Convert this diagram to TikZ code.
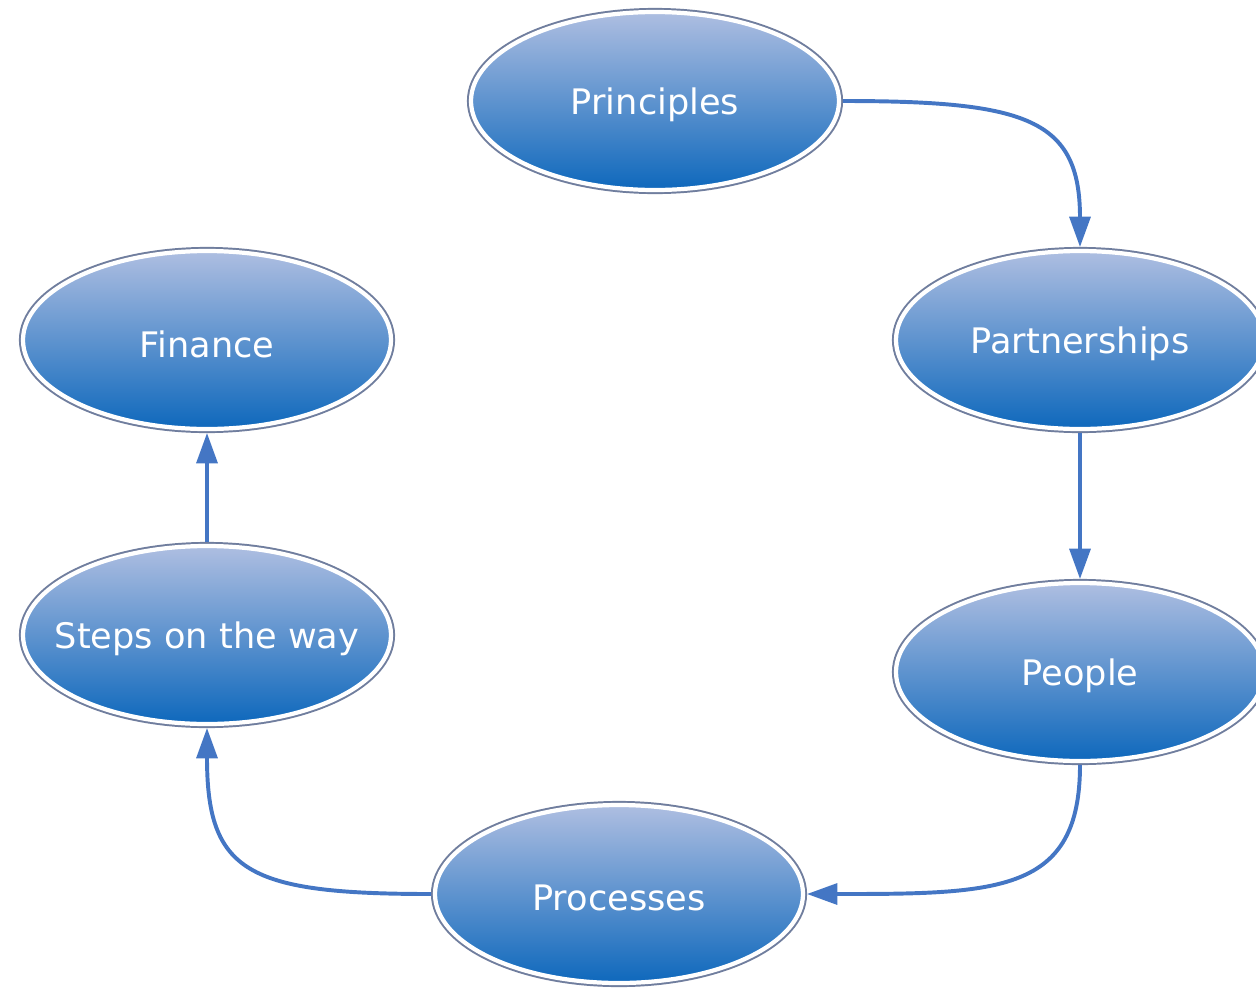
\documentclass[tikz,border=0pt]{standalone}
\usepackage{fontspec}
\setmainfont{DejaVu Sans}
\definecolor{bubbletop}{RGB}{174, 190, 225}
\definecolor{bubblebottom}{RGB}{14, 104, 188}
\definecolor{ringgray}{RGB}{112, 126, 158}
\definecolor{flowblue}{RGB}{68, 118, 196}
\usepackage{tikz}
\usetikzlibrary{shapes, arrows.meta, positioning}

\begin{document}
\begin{tikzpicture}[
    bubble/.style={ellipse, minimum width=9.2cm, minimum height=4.45cm, inner sep=0pt, outer sep=2.8pt,
      top color=bubbletop, bottom color=bubblebottom, draw=white, line width=3pt,
      preaction={draw=ringgray, line width=5.8pt}},
    bubbletext/.style={text=white, font=\fontsize{25}{30}\selectfont, yshift=-3pt},
    flow/.style={-{Triangle[length=0.76cm, width=0.52cm]}, draw=flowblue, line width=2.8pt}
  ]
  \useasboundingbox (0, 0) rectangle (31.4, -24.7);

  % The six stages
  \node[bubble, label={[bubbletext]center:Principles}] (principles) at (16.375, -2.525) {};
  \node[bubble, label={[bubbletext]center:Partnerships}] (partnerships) at (27, -8.5) {};
  \node[bubble, label={[bubbletext]center:People}] (people) at (27, -16.8) {};
  \node[bubble, label={[bubbletext]center:Processes}] (processes) at (15.475, -22.35) {};
  \node[bubble, label={[bubbletext]center:Steps on the way}] (steps) at (5.175, -15.875) {};
  \node[bubble, label={[bubbletext]center:Finance}] (finance) at (5.175, -8.5) {};

  % Cycle arrows
  \draw[flow] (principles.east) .. controls +(4.6, 0) and +(0, 3.2) .. (partnerships.north);
  \draw[flow] (partnerships.south) -- (people.north);
  \draw[flow] (people.south) .. controls +(0, -3.2) and +(4.8, 0) .. (processes.east);
  \draw[flow] (processes.west) .. controls +(-4.6, 0) and +(0, -3.6) .. (steps.south);
  \draw[flow] (steps.north) -- (finance.south);
\end{tikzpicture}
\end{document}
